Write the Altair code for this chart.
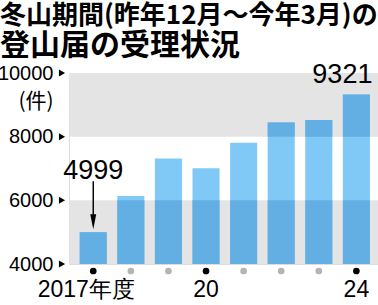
import json
import altair as alt
import pandas as pd

# ---------------- data ----------------
years = ["2017", "2018", "2019", "2020", "2021", "2022", "2023", "2024"]
counts = [4999, 6140, 7313, 7011, 7807, 8447, 8521, 9321]
x_labels = ["2017年度", "", "", "20", "", "", "", "24"]
y_ticks = [4000, 6000, 8000, 10000]
band_lo = [4000, 8000]
band_hi = [6000, 10000]
title_lines = ["冬山期間(昨年12月～今年3月)の", "登山届の受理状況"]
unit_text = ["(件)"]

# ---------------- style ----------------
LIGHT = "#80c9f6"
DARK = "#63aee2"
BAND = "#e4e4e4"
SANS = "Liberation Sans, Arial, sans-serif"
CJK = "Noto Sans CJK JP"
W, H = 309, 191

df = pd.DataFrame({"year": years, "count": counts, "label": x_labels})
df["major"] = df["label"] != ""
ticks_df = pd.DataFrame({"v": y_ticks})
bands_df = pd.DataFrame({"lo": band_lo, "hi": band_hi})
unit_df = pd.DataFrame({"t": unit_text})

label_map = dict(zip(years, x_labels))
label_expr = "(" + json.dumps(label_map, ensure_ascii=False) + ")[datum.value] || ''"

xscale = alt.Scale(domain=years, paddingInner=0.28, paddingOuter=0.25, align=0.57)
yscale = alt.Scale(domain=[y_ticks[0], y_ticks[-1]], zero=False, nice=False)

x_axis = alt.Axis(title=None, labelExpr=label_expr, ticks=False, domain=False,
                  labelAngle=0, labelFontSize=23, labelFont=SANS,
                  labelColor="black", labelPadding=14, grid=False,
                  labelOffset={"condition": {"test": f"datum.value == '{years[0]}'", "value": -7},
                               "value": 0})
y_axis = alt.Axis(title=None, values=y_ticks, ticks=False, domain=False, grid=False,
                  labelFontSize=20, labelFont=SANS, labelColor="black",
                  labelPadding=16, format="d")

X = alt.X("year:O", scale=xscale, axis=x_axis)


def Y(field):
    return alt.Y(field, scale=yscale, axis=y_axis)


bands = alt.Chart(bands_df).mark_rect(color=BAND).encode(
    x=alt.value(0), x2=alt.value(W), y=Y("lo:Q"), y2="hi:Q")

base = alt.Chart(df).transform_calculate(
    base=str(band_lo[0]),
    d1=f"min(datum.count, {band_hi[0]})",
    d2lo=str(band_lo[1]),
    d2hi=f"max(datum.count, {band_lo[1]})",
)
light = base.mark_bar(color=LIGHT).encode(x=X, y=Y("count:Q"), y2="base:Q")
dark1 = base.mark_bar(color=DARK).encode(x=X, y=Y("d1:Q"), y2="base:Q")
dark2 = base.mark_bar(color=DARK).encode(x=X, y=Y("d2hi:Q"), y2="d2lo:Q")

dots = alt.Chart(df).mark_circle(size=45, opacity=1).encode(
    x=X, y=alt.value(H + 7),
    color=alt.condition("datum.major", alt.value("black"), alt.value("#b4b4b4")))

tris = alt.Chart(ticks_df).mark_point(shape="triangle-right", filled=True, size=50,
                                      color="black", opacity=1).encode(
    x=alt.value(-7), y=Y("v:Q"))

unit = alt.Chart(unit_df).mark_text(font=CJK, fontSize=21, color="black",
                                    baseline="middle", align="center").encode(
    text="t:N", x=alt.value(-33), y=alt.value(29))

ann1 = alt.Chart(df).transform_filter(f"datum.year == '{years[0]}'").mark_text(
    font=SANS, fontSize=27, color="black", baseline="alphabetic", dy=-53).encode(
    x=X, y=Y("count:Q"), text=alt.Text("count:Q", format="d"))
ann2 = alt.Chart(df).transform_filter(f"datum.year == '{years[-1]}'").mark_text(
    font=SANS, fontSize=27, color="black", baseline="alphabetic", dy=-12, dx=-14).encode(
    x=X, y=Y("count:Q"), text=alt.Text("count:Q", format="d"))

arrow_path = "M-0.03,-1 L0.03,-1 L0.03,0.375 L0.125,0.375 L0,1 L-0.125,0.375 L-0.03,0.375 Z"
arrow = alt.Chart(df).transform_filter(f"datum.year == '{years[0]}'").mark_point(
    shape=arrow_path, filled=True, size=2304, color="black", opacity=1, yOffset=-27).encode(
    x=X, y=Y("count:Q"))

t1 = alt.Chart(pd.DataFrame({"t": [title_lines[0]]})).mark_text(
    font=CJK, fontSize=26, fontWeight="bold", color="black",
    align="left", baseline="alphabetic").encode(
    text="t:N", x=alt.value(-69), y=alt.value(-49))
t2 = alt.Chart(pd.DataFrame({"t": [title_lines[1]]})).mark_text(
    font=CJK, fontSize=30, fontWeight="bold", color="black",
    align="left", baseline="alphabetic").encode(
    text="t:N", x=alt.value(-69), y=alt.value(-18))

chart = alt.layer(bands, light, dark1, dark2, dots, tris, unit, ann1, ann2, arrow, t1, t2).properties(
    width=W, height=H,
    autosize=alt.AutoSizeParams(type="none"),
    padding={"left": 69, "top": 73, "right": 0, "bottom": 41},
).configure_view(stroke=None).configure(background="white")

chart.save("out.html", embed_options={"renderer": "svg", "actions": False})
